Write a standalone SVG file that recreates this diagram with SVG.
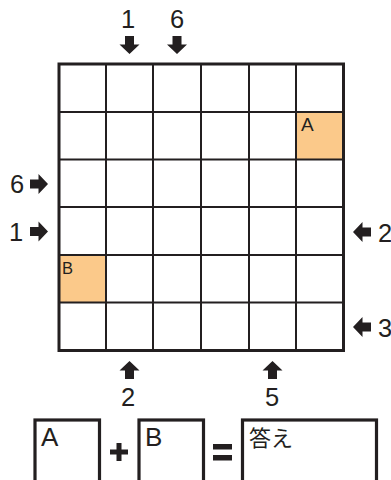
<svg xmlns="http://www.w3.org/2000/svg" width="391" height="480" viewBox="0 0 391 480">
<style>
.t{font-family:"Liberation Sans",Arial,sans-serif;fill:#231f20}
.g{stroke:#231f20;stroke-width:2;fill:none}
.o{stroke:#231f20;stroke-width:3;fill:none}
.a{fill:#231f20}
.hl{fill:#fbc98a}
.bx{stroke:#231f20;stroke-width:3.2;fill:#fff}
</style>
<defs>
<path id="arr" d="M-4.5,-18 H4.5 V-9.5 H10 L0,0 L-10,-9.5 H-4.5 Z"/>
</defs>
<rect width="391" height="480" fill="#fff"/>
<g id="grid">
<rect class="hl" x="296" y="112" width="47" height="47.5"/>
<rect class="hl" x="59" y="255" width="47" height="47.5"/>
<path class="g" d="M106,64V350.5M153,64V350.5M201,64V350.5M249,64V350.5M296,64V350.5M59,112H343M59,159.5H343M59,207H343M59,255H343M59,302.5H343"/>
<rect class="o" x="59" y="64" width="284.5" height="286.5"/>
<text class="t" x="301" y="131" font-size="19">A</text>
<text class="t" x="62" y="273.5" font-size="16.5">B</text>
</g>
<g id="clues-top">
<text class="t" x="128" y="28" font-size="25.5" text-anchor="middle">1</text>
<text class="t" x="177" y="28" font-size="25.5" text-anchor="middle">6</text>
<use href="#arr" class="a" transform="translate(129.5,54)"/>
<use href="#arr" class="a" transform="translate(177,54)"/>
</g>
<g id="clues-left">
<text class="t" x="17" y="193" font-size="25.5" text-anchor="middle">6</text>
<text class="t" x="16" y="241" font-size="25.5" text-anchor="middle">1</text>
<use href="#arr" class="a" transform="translate(48,184) rotate(-90)"/>
<use href="#arr" class="a" transform="translate(48,231.5) rotate(-90)"/>
</g>
<g id="clues-right">
<use href="#arr" class="a" transform="translate(353,232) rotate(90)"/>
<use href="#arr" class="a" transform="translate(353,327) rotate(90)"/>
<text class="t" x="378" y="242" font-size="25.5">2</text>
<text class="t" x="378" y="337" font-size="25.5">3</text>
</g>
<g id="clues-bottom">
<use href="#arr" class="a" transform="translate(129.5,361) rotate(180)"/>
<use href="#arr" class="a" transform="translate(272.5,361) rotate(180)"/>
<text class="t" x="128" y="406" font-size="25.5" text-anchor="middle">2</text>
<text class="t" x="272" y="406" font-size="25.5" text-anchor="middle">5</text>
</g>
<g id="box-A">
<rect class="bx" x="35" y="420" width="64.5" height="80"/>
<text class="t" x="41" y="446" font-size="26">A</text>
</g>
<g id="plus">
<rect class="a" x="110" y="449.5" width="18" height="5"/>
<rect class="a" x="116.5" y="443" width="5" height="18"/>
</g>
<g id="box-B">
<rect class="bx" x="139" y="420" width="64.5" height="80"/>
<text class="t" x="145" y="446" font-size="26">B</text>
</g>
<g id="equals">
<rect class="a" x="213" y="444" width="19" height="5.5"/>
<rect class="a" x="213" y="455" width="19" height="5.5"/>
</g>
<g id="box-answer">
<rect class="bx" x="242.5" y="420" width="134" height="80"/>
<text x="249" y="446" font-size="22" style="font-family:'Liberation Sans','Noto Sans CJK JP',sans-serif;fill:#231f20">答え</text>
</g>
</svg>
